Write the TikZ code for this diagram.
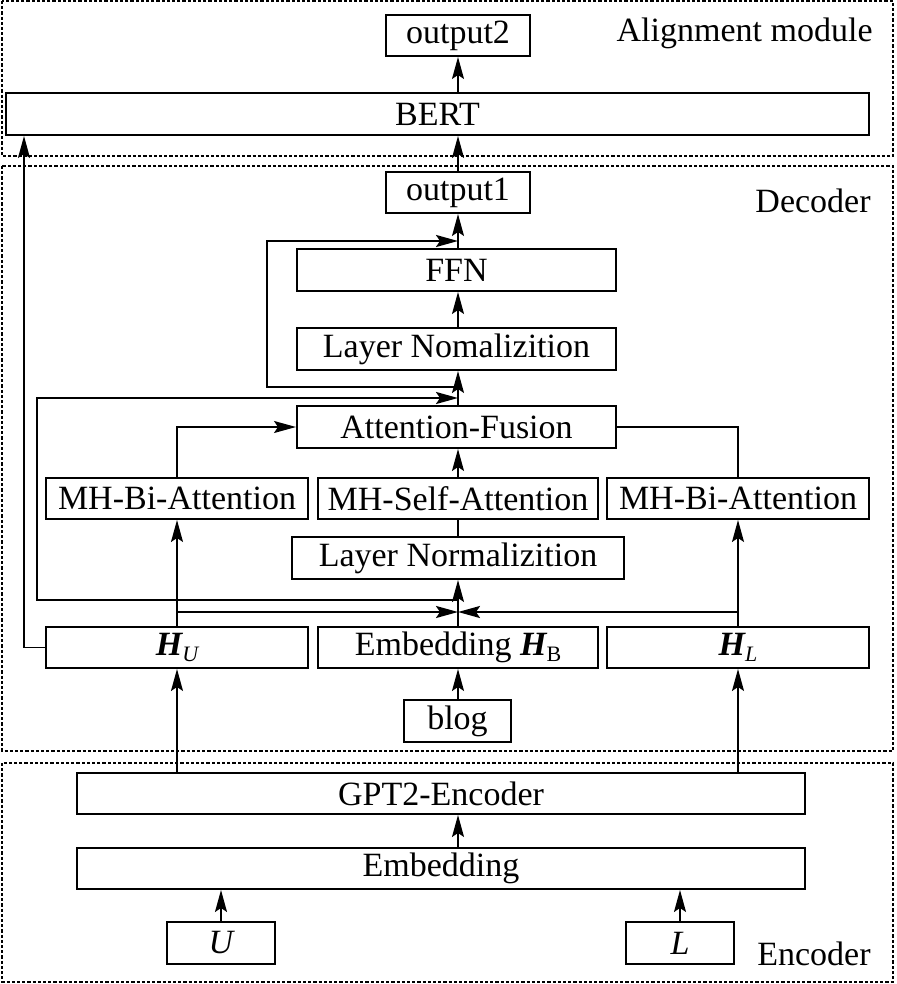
\documentclass[tikz,border=0pt]{standalone}
\usepackage{fontspec}
\setmainfont{Liberation Serif}
\usetikzlibrary{arrows.meta}
\begin{document}
\begin{tikzpicture}[x=0.5pt,y=-0.5pt,
  box/.style={draw,line width=1pt,inner sep=0pt,font=\fontsize{17}{19}\selectfont},
  frame/.style={draw,line width=0.7pt,dash pattern=on 1.6pt off 1pt},
  lbl/.style={font=\fontsize{17}{19}\selectfont,inner sep=0pt,anchor=base east},
  conn/.style={line width=0.8pt},
  arr/.style={conn,-{Stealth[length=11pt,width=6pt,inset=2pt]}},
  res/.style={line width=1.1pt},
  resarr/.style={res,-{Stealth[length=11pt,width=6pt,inset=2pt]}}]
\useasboundingbox (0,0) rectangle (896,984);
% frames
\draw[frame] (2,1) rectangle (893,156);
\draw[frame] (2,166) rectangle (893,751);
\draw[frame] (2,763) rectangle (893,982);
\node[lbl] (talign) at (873,42) {Alignment module};
\node[lbl] (tdec) at (871,213) {Decoder};
\node[lbl] (tenc) at (871,965) {Encoder};
% columns
\coordinate (cc) at (458,0);
\coordinate (cu) at (177,0);
\coordinate (cl) at (738,0);
\coordinate (cb) at (24,0);
% boxes
\node[box,minimum width=72pt,minimum height=20.5pt] (out2) at (458,35.5) {output2};
\node[box,minimum width=431.5pt,minimum height=21pt] (bert) at (437.5,114) {BERT};
\node[box,minimum width=72pt,minimum height=20.5pt] (out1) at (458,192.5) {output1};
\node[box,minimum width=159.5pt,minimum height=21pt] (ffn) at (456.5,270) {FFN};
\node[box,minimum width=159.5pt,minimum height=21pt] (ln1) at (456.5,349) {Layer Nomalizition};
\node[box,minimum width=159.5pt,minimum height=21pt] (af) at (456.5,427) {Attention-Fusion};
\node[box,minimum width=131pt,minimum height=20.5pt] (mhbl) at (177,498.5) {MH-Bi-Attention};
\node[box,minimum width=140pt,minimum height=20.5pt] (mhs) at (458,498.5) {MH-Self-Attention};
\node[box,minimum width=131pt,minimum height=20.5pt] (mhbr) at (738,498.5) {MH-Bi-Attention};
\node[box,minimum width=166pt,minimum height=21pt] (ln2) at (458,558) {Layer Normalizition};
\node[box,minimum width=131pt,minimum height=20.5pt] (hu) at (177,647.5) {{\bfseries\itshape H}\raisebox{-0.35ex}{\fontsize{11}{12}\selectfont\itshape U}};
\node[box,minimum width=140pt,minimum height=20.5pt] (hb) at (458,647.5) {Embedding {\bfseries\itshape H}\raisebox{-0.35ex}{\fontsize{11}{12}\selectfont B}};
\node[box,minimum width=131pt,minimum height=20.5pt] (hl) at (738,647.5) {{\bfseries\itshape H}\raisebox{-0.35ex}{\fontsize{11}{12}\selectfont\itshape L}};
\node[box,minimum width=53.5pt,minimum height=21pt] (blog) at (457.5,721) {blog};
\node[box,minimum width=364pt,minimum height=20.5pt] (gpt) at (441,793.5) {GPT2-Encoder};
\node[box,minimum width=364pt,minimum height=20.5pt] (emb) at (441,868.5) {Embedding};
\node[box,minimum width=54pt,minimum height=21pt] (ubox) at (221,943) {\itshape U};
\node[box,minimum width=54pt,minimum height=21pt] (lbox) at (680,943) {\itshape L};
% junction coordinates
\coordinate (j1) at (458,612);
\coordinate (r1a) at (458,600);
\coordinate (r1b) at (458,398);
\coordinate (r2a) at (458,387);
\coordinate (r2b) at (458,241);
% encoder connectors
\draw[arr] (ubox.north) -- (ubox.north |- emb.south);
\draw[arr] (lbox.north) -- (lbox.north |- emb.south);
\draw[arr] (emb.north -| cc) -- (gpt.south -| cc);
\draw[arr] (gpt.north -| cu) -- (hu.south);
\draw[arr] (gpt.north -| cl) -- (hl.south);
\draw[arr] (blog.north -| cc) -- (hb.south -| cc);
% decoder
\draw[arr] (hb.north -| cc) -- (ln2.south -| cc);
\draw[arr] (hu.north) -- (mhbl.south);
\draw[arr] (hl.north) -- (mhbr.south);
\draw[resarr] (hu.north |- j1) -- (j1);
\draw[resarr] (hl.north |- j1) -- (j1);
\draw[conn] (ln2.north -| cc) -- (mhs.south -| cc);
\draw[arr] (mhs.north -| cc) -- (af.south -| cc);
\draw[arr] (mhbl.north) |- (af.west);
\draw[conn] (mhbr.north) |- (af.east);
\draw[resarr] (r1a) -- ++(-421,0) |- (r1b);
\draw[arr] (af.north -| cc) -- (ln1.south -| cc);
\draw[resarr] (r2a) -- ++(-191,0) |- (r2b);
\draw[arr] (ln1.north -| cc) -- (ffn.south -| cc);
\draw[arr] (ffn.north -| cc) -- (out1.south -| cc);
\draw[arr] (out1.north -| cc) -- (bert.south -| cc);
\draw[arr] (bert.north -| cc) -- (out2.south -| cc);
\draw[arr] (hu.west) -| (cb |- bert.south);
\end{tikzpicture}
\end{document}
